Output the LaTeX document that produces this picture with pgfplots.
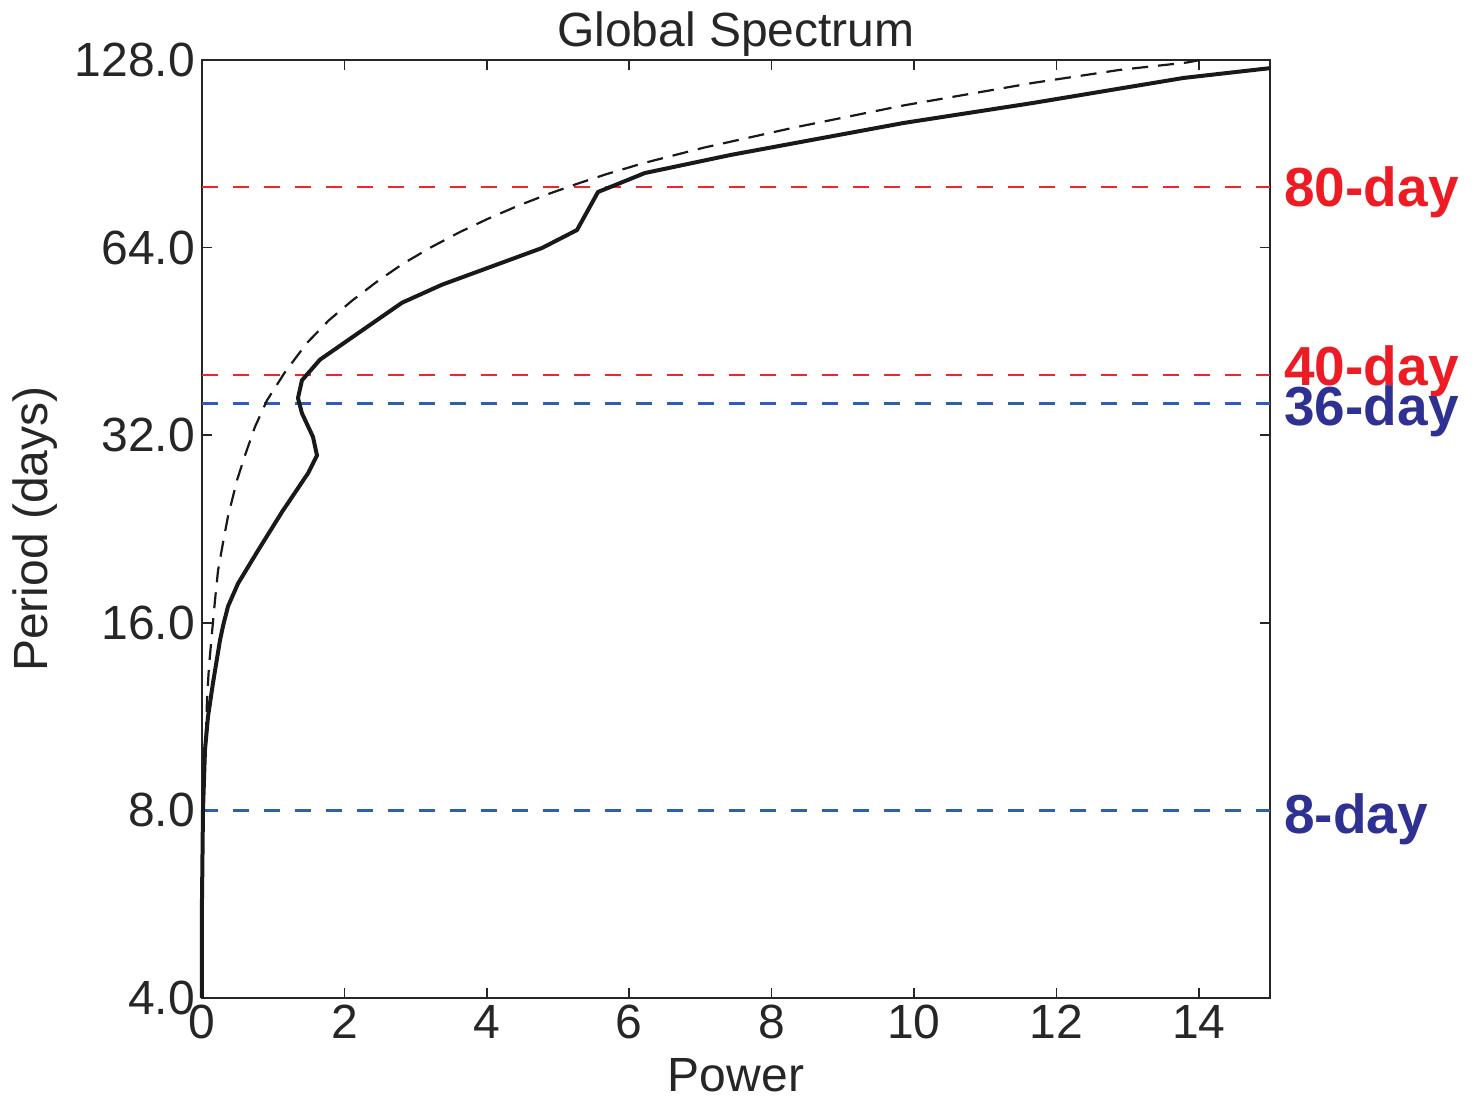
\documentclass[border=0pt]{standalone}
\usepackage{pgfplots}
\pgfplotsset{compat=1.18}
\usepackage{fontspec}
\setmainfont{Liberation Sans}
\definecolor{lred}{RGB}{237,40,45}
\definecolor{tred}{RGB}{237,28,36}
\definecolor{lblue}{RGB}{45,95,175}
\definecolor{tblue}{RGB}{46,49,146}
\begin{document}
\begin{tikzpicture}
\begin{axis}[
  scale only axis,
  width=534pt, height=469pt,
  xmin=0, xmax=15, ymin=4, ymax=128,
  ymode=log, log basis y=2,
  xtick={0,2,...,14},
  ytick={4,8,16,32,64,128},
  yticklabels={4.0,8.0,16.0,32.0,64.0,128.0},
  /pgf/number format/assume math mode=true,
  tick align=inside,
  major tick length=5pt,
  minor tick num=0,
  axis line style={line width=1.3pt, black!85},
  every tick/.style={line width=0.8pt, black!85},
  ticklabel style={font=\fontsize{24}{24}\selectfont, text=black!85},
  xticklabel style={yshift=0pt},
  every axis title shift=0pt,
  title={Global Spectrum},
  title style={at={(axis description cs:0.5,1)}, anchor=base, yshift=6.5pt, inner sep=0pt, font=\fontsize{24}{24}\selectfont, text=black!85},
  xlabel={Power},
  xlabel style={at={(axis description cs:0.5,0)}, anchor=base, yshift=-47pt, inner sep=0pt, font=\fontsize{24}{24}\selectfont, text=black!85},
  ylabel={Period (days)},
  ylabel style={at={(axis description cs:-0.1442,0.5)}, rotate=0, anchor=base, inner sep=0pt, font=\fontsize{24}{24}\selectfont, text=black!85},
  clip=false,
]
% reference lines
\addplot[lred, line width=1.2pt, dash pattern=on 8pt off 7.5pt] coordinates {(0,80) (15,80)};
\addplot[lred, line width=1.2pt, dash pattern=on 8pt off 7.5pt] coordinates {(0,40) (15,40)};
\addplot[lblue, line width=1.2pt, dash pattern=on 8pt off 7.5pt] coordinates {(0,36) (15,36)};
\addplot[lblue, line width=1.2pt, dash pattern=on 8pt off 7.5pt] coordinates {(0,8) (15,8)};
% significance (dashed)
\addplot[black!90, line width=1.1pt, dash pattern=on 8pt off 5pt] coordinates {
(0.04,9.5) (0.056,10.65) (0.070,12.0) (0.098,13.6) (0.140,15.4) (0.183,17.4)
(0.225,19.4) (0.295,21.5) (0.365,23.7) (0.492,27.1) (0.604,29.7) (0.744,33.0)
(0.913,36.4) (1.166,40.4) (1.475,45.0) (1.780,48.9) (2.107,52.6) (2.472,56.6)
(2.823,60.3) (3.230,64.2) (3.624,67.8) (4.017,71.2) (4.438,74.7) (4.888,78.2)
(5.309,81.3) (5.688,84.0) (6.194,87.4) (7.05,92.6) (8.33,99.8) (9.85,108.2)
(11.67,117.6) (12.89,123.4) (13.83,126.8) (14.02,128)
};
% global spectrum (solid)
\addplot[black!90, line width=2pt] coordinates {
(0.0,4.0) (0.0,5.74) (0.014,8.0) (0.042,10.0) (0.084,11.3) (0.154,12.8)
(0.253,15.0) (0.295,15.8) (0.365,17.0) (0.506,18.5) (0.787,20.9) (1.124,24.1)
(1.489,27.8) (1.615,29.7) (1.559,31.8) (1.404,34.7) (1.348,36.7) (1.404,39.2)
(1.657,42.3) (2.809,52.2) (3.371,55.8) (4.775,63.9) (5.267,68.3) (5.562,78.6)
(6.22,84.3) (7.42,90.1) (9.85,101.4) (11.67,109.2) (13.79,119.8) (15.0,124.2)
};
\node[anchor=west, text=tred, font=\fontsize{27.5}{27.5}\selectfont\bfseries, inner sep=0pt, xshift=7pt, yshift=-2.5pt] at (axis cs:15,80) {80-day};
\node[anchor=west, text=tred, font=\fontsize{27.5}{27.5}\selectfont\bfseries, inner sep=0pt, xshift=7pt, yshift=2pt] at (axis cs:15,40) {40-day};
\node[anchor=west, text=tblue, font=\fontsize{27.5}{27.5}\selectfont\bfseries, inner sep=0pt, xshift=7pt, yshift=-4pt] at (axis cs:15,36) {36-day};
\node[anchor=west, text=tblue, font=\fontsize{27.5}{27.5}\selectfont\bfseries, inner sep=0pt, xshift=7pt, yshift=-4.5pt] at (axis cs:15,8) {8-day};
\path (rel axis cs:-0.18914,-0.11087) rectangle (rel axis cs:1.19476,1.06397);
\end{axis}
\end{tikzpicture}
\end{document}
